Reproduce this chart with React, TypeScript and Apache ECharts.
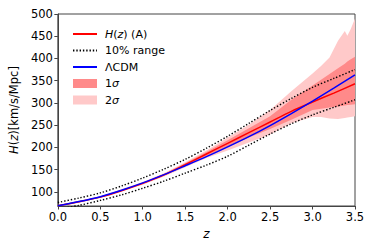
import React, { useEffect, useRef } from "react";
import * as echarts from "echarts";

// redshift grid for the curves
const zLine = [0, 0.25, 0.5, 0.75, 1, 1.25, 1.5, 1.75, 2, 2.25, 2.5, 2.75, 3, 3.25, 3.5];
const hA = [68.5, 77.5, 88, 102.5, 119, 138, 161, 185, 209, 233, 257, 281, 302, 322, 343];
const hLCDM = [68.5, 78, 89, 103.5, 120, 138.5, 158.5, 179, 201, 224, 249, 276, 304, 333, 363];
const range10Upper = [76, 86, 97.5, 113, 131, 151, 173, 198, 225, 254, 283, 310, 335, 355, 375];
const range10Lower = [61, 69.5, 80.5, 93, 108, 124, 142, 160, 180, 205, 230, 253, 273, 290, 307];

// redshift grid for the confidence bands
const zBand = [0, 0.5, 1.0, 1.25, 1.5, 1.75, 2.0, 2.25, 2.5, 2.75, 3.0, 3.1, 3.2, 3.3, 3.38, 3.41, 3.45, 3.5];
const sigma1Upper = [69.5, 89, 120.5, 140, 164, 189.5, 216, 243, 270, 307, 339, 352, 365, 378, 388, 393, 398, 404];
const sigma1Lower = [67.5, 87, 117.5, 136, 158, 180.5, 201, 222, 241, 262, 284, 287, 289.5, 292, 294, 295, 296, 297];
const sigma2Upper = [70.5, 90, 122, 141.5, 166.5, 193, 222, 251, 284, 326, 366, 383, 402, 440, 462, 451, 466, 490];
const sigma2Lower = [66.5, 86, 116, 134.5, 155, 176, 193, 211, 229, 254, 268, 268, 265, 264, 266, 267, 268, 270];

const xTicks = [0, 0.5, 1, 1.5, 2, 2.5, 3, 3.5];
const yTicks = [100, 150, 200, 250, 300, 350, 400, 450, 500];

const FONT = "DejaVu Sans";

function bandSeries(name: string, lo: number[], hi: number[], color: string, z: number) {
  return {
    type: "custom",
    name,
    z,
    clip: true,
    silent: true,
    itemStyle: { color },
    encode: { x: 0, y: [1, 2] },
    data: zBand.map((zz, i) => [zz, lo[i], hi[i]]),
    renderItem: (params: any, api: any) => {
      if (params.dataIndex !== 0) return null;
      const pts: number[][] = [];
      for (let i = 0; i < zBand.length; i++) pts.push(api.coord([zBand[i], hi[i]]));
      for (let i = zBand.length - 1; i >= 0; i--) pts.push(api.coord([zBand[i], lo[i]]));
      return {
        type: "polygon",
        shape: { points: pts },
        style: { fill: color, stroke: null },
      };
    },
  };
}

export default function App() {
  const ref = useRef<HTMLDivElement>(null);
  useEffect(() => {
    if (!ref.current) return;
    const chart = echarts.init(ref.current, null, { renderer: "svg" });
    const pair = (ys: number[]) => zLine.map((z, i) => [z, ys[i]]);
    const italic = { fontStyle: "italic", fontFamily: FONT, fontSize: 11, color: "#000" };
    const noSymbol = { opacity: 0 };
    const dotted = { color: "#000", width: 1.4, type: [1.4, 1.9] };
    chart.setOption({
      animation: false,
      textStyle: { fontFamily: FONT },
      grid: {
        left: 57.5,
        right: 19,
        top: 14,
        bottom: 43,
        show: true,
        borderColor: "#444",
        borderWidth: 1,
        backgroundColor: "transparent",
      },
      legend: {
        orient: "vertical",
        left: 67,
        top: 22,
        itemWidth: 24,
        itemHeight: 9,
        itemGap: 2.5,
        selectedMode: false,
        textStyle: {
          fontFamily: FONT,
          fontSize: 11,
          color: "#000",
          lineHeight: 14,
          padding: [0, 0, 0, 3],
          rich: {
            i: { ...italic, lineHeight: 14 },
            n: { fontFamily: FONT, fontSize: 11, color: "#000", lineHeight: 14 },
          },
        },
        formatter: (name: string) => {
          if (name === "H(z) (A)") return "{i|H}{n|(}{i|z}{n|) (A)}";
          if (name === "1σ") return "{n|1}{i|σ}";
          if (name === "2σ") return "{n|2}{i|σ}";
          return name;
        },
        data: [
          { name: "H(z) (A)", itemStyle: noSymbol },
          { name: "10% range", itemStyle: noSymbol },
          { name: "ΛCDM", itemStyle: noSymbol },
          { name: "1σ", icon: "rect" },
          { name: "2σ", icon: "rect" },
        ],
      },
      xAxis: {
        type: "value",
        min: 0,
        max: 3.5,
        interval: 0.5,
        name: "z",
        nameLocation: "middle",
        nameGap: 19,
        nameTextStyle: { ...italic, fontSize: 12, verticalAlign: "top" },
        axisLine: { show: true, lineStyle: { color: "#444", width: 1 } },
        axisTick: { show: true, inside: false, length: 3.5, lineStyle: { color: "#444" }, customValues: xTicks },
        axisLabel: {
          color: "#000",
          fontSize: 11.5,
          fontFamily: FONT,
          margin: 5,
          customValues: xTicks,
          formatter: (v: number) => v.toFixed(1),
        },
        splitLine: { show: false },
      },
      yAxis: {
        type: "value",
        min: 68,
        max: 500,
        name: "{i|H}{n|(}{i|z}{n|)[km/s/Mpc]}",
        nameLocation: "middle",
        nameRotate: 90,
        nameGap: 33,
        nameTextStyle: {
          rich: {
            i: { ...italic, fontSize: 11.5 },
            n: { fontFamily: FONT, fontSize: 11.5, color: "#000" },
          },
        },
        axisLine: { show: true, lineStyle: { color: "#444", width: 1 } },
        axisTick: { show: true, inside: false, length: 3.5, lineStyle: { color: "#444" }, customValues: yTicks },
        axisLabel: {
          color: "#000",
          fontSize: 11.5,
          fontFamily: FONT,
          margin: 5,
          customValues: yTicks,
        },
        splitLine: { show: false },
      },
      series: [
        bandSeries("2σ", sigma2Lower, sigma2Upper, "#ffc9c9", 1),
        bandSeries("1σ", sigma1Lower, sigma1Upper, "#ff8a8a", 2),
        {
          type: "line",
          name: "H(z) (A)",
          z: 3,
          data: pair(hA),
          symbol: "none",
          smooth: 0.3,
          lineStyle: { color: "#ff0000", width: 1.5 },
          itemStyle: { color: "#ff0000" },
        },
        {
          type: "line",
          name: "10% range",
          z: 4,
          data: pair(range10Upper),
          symbol: "none",
          smooth: 0.3,
          lineStyle: dotted,
          itemStyle: { color: "#000" },
        },
        {
          type: "line",
          name: "10% range",
          z: 4,
          data: pair(range10Lower),
          symbol: "none",
          smooth: 0.3,
          lineStyle: dotted,
          itemStyle: { color: "#000" },
        },
        {
          type: "line",
          name: "ΛCDM",
          z: 5,
          data: pair(hLCDM),
          symbol: "none",
          smooth: 0.3,
          lineStyle: { color: "#0000ff", width: 1.5 },
          itemStyle: { color: "#0000ff" },
        },
      ],
    });
    return () => chart.dispose();
  }, []);
  return (
    <div
      ref={ref}
      style={{ position: "fixed", left: 0, top: 0, width: 374, height: 249, background: "#fff" }}
    />
  );
}
